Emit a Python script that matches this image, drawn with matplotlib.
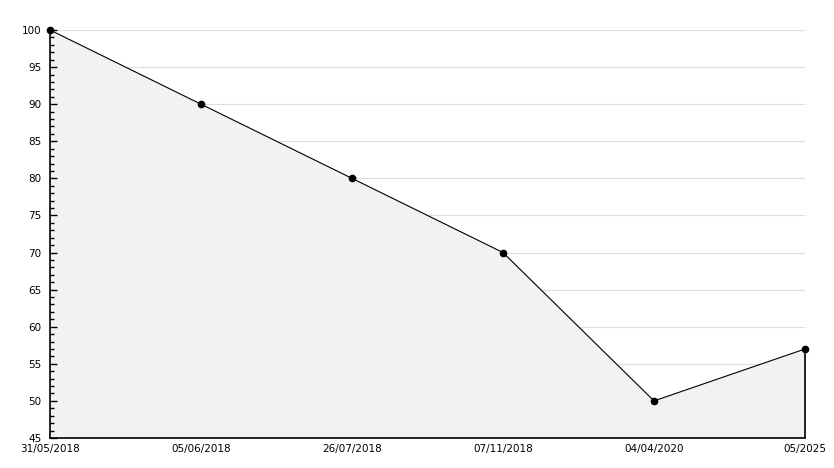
import matplotlib
matplotlib.use("Agg")
import matplotlib.pyplot as plt
import numpy as np

# Chart data
dates = ["31/05/2018", "05/06/2018", "26/07/2018", "07/11/2018", "04/04/2020", "05/2025"]
values = [100, 90, 80, 70, 50, 57]

W, H = 834, 468
fig = plt.figure(figsize=(W / 100, H / 100), dpi=100)
ax = fig.add_axes([50 / W, (H - 438) / H, (805 - 50) / W, (438 - 30) / H])

x = np.arange(len(values))
ax.fill_between(x, values, 45, color="#f2f2f2", zorder=1)
ax.plot(x, values, color="black", linewidth=0.8, zorder=3, clip_on=False)
ax.plot(x, values, linestyle="none", marker="o", markersize=4.5, color="black",
        zorder=6, clip_on=False)
# right edge of the filled area
ax.vlines(x[-1], 45, values[-1], color="black", linewidth=1.2, zorder=3, clip_on=False)

ax.set_xlim(0, len(values) - 1)
ax.set_ylim(45, 100)
ax.set_yticks(np.arange(45, 101, 5))
ax.set_yticks(np.arange(45, 101, 1), minor=True)
ax.set_xticks(x)
ax.set_xticklabels(dates)

for yv in range(50, 101, 5):
    ax.axhline(yv, color="#dddddd", linewidth=0.8, zorder=0)

for side in ["top", "right"]:
    ax.spines[side].set_visible(False)
ax.spines["left"].set_linewidth(1.2)
ax.spines["bottom"].set_linewidth(1.2)
ax.spines["left"].set_zorder(5)
ax.spines["bottom"].set_zorder(5)

ax.tick_params(axis="y", which="major", direction="in", length=5, width=1, pad=6, labelsize=7.5)
ax.tick_params(axis="y", which="minor", direction="in", length=3, width=1)
ax.tick_params(axis="x", length=0, pad=4, labelsize=7.5)
ax.set_facecolor("white")

fig.savefig("out.png", dpi=100)
